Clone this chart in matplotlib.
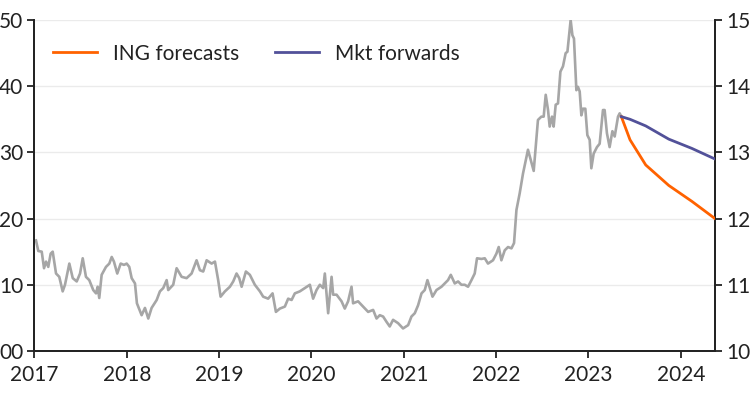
import matplotlib
matplotlib.use("Agg")
import matplotlib.pyplot as plt
import numpy as np

plt.rcParams['font.family'] = ['Lato', 'DejaVu Sans']

# history (decimal years, left axis units)
hist_t = [2017.017, 2017.042, 2017.079, 2017.104, 2017.126, 2017.150, 2017.176, 2017.198,
          2017.234, 2017.269, 2017.306, 2017.331, 2017.378, 2017.415, 2017.458, 2017.494,
          2017.523, 2017.558, 2017.594, 2017.637, 2017.667, 2017.685, 2017.702, 2017.728,
          2017.775, 2017.811, 2017.837, 2017.861, 2017.897, 2017.934, 2017.970, 2017.999,
          2018.027, 2018.053, 2018.089, 2018.110, 2018.161, 2018.197, 2018.233, 2018.269,
          2018.324, 2018.359, 2018.395, 2018.432, 2018.449, 2018.503, 2018.540, 2018.594,
          2018.648, 2018.702, 2018.756, 2018.792, 2018.828, 2018.865, 2018.919, 2018.955,
          2018.990, 2019.016, 2019.063, 2019.117, 2019.153, 2019.189, 2019.218, 2019.244,
          2019.290, 2019.333, 2019.387, 2019.442, 2019.477, 2019.531, 2019.579, 2019.615,
          2019.658, 2019.712, 2019.748, 2019.785, 2019.820, 2019.874, 2019.929, 2019.983,
          2020.018, 2020.055, 2020.091, 2020.127, 2020.145, 2020.181, 2020.218, 2020.235,
          2020.272, 2020.326, 2020.361, 2020.397, 2020.434, 2020.451, 2020.505, 2020.560,
          2020.614, 2020.668, 2020.705, 2020.740, 2020.776, 2020.813, 2020.848, 2020.884,
          2020.938, 2020.992, 2021.047, 2021.083, 2021.119, 2021.155, 2021.192, 2021.227,
          2021.256, 2021.311, 2021.354, 2021.408, 2021.444, 2021.479, 2021.509, 2021.552,
          2021.588, 2021.624, 2021.660, 2021.696, 2021.733, 2021.768, 2021.793, 2021.841,
          2021.877, 2021.912, 2021.966, 2022.003, 2022.028, 2022.057, 2022.093, 2022.129,
          2022.166, 2022.194, 2022.220, 2022.255, 2022.291, 2022.345, 2022.407, 2022.453,
          2022.490, 2022.515, 2022.537, 2022.562, 2022.580, 2022.605, 2022.623, 2022.645,
          2022.670, 2022.696, 2022.724, 2022.753, 2022.772, 2022.789, 2022.807, 2022.826,
          2022.843, 2022.869, 2022.886, 2022.905, 2022.923, 2022.940, 2022.966, 2022.988,
          2023.013, 2023.031, 2023.056, 2023.092, 2023.121, 2023.157, 2023.175, 2023.200,
          2023.229, 2023.259, 2023.284, 2023.320, 2023.338, 2023.356]
hist_v = [16.7, 15.1, 15.0, 12.5, 13.5, 12.7, 14.7, 15.0,
          11.7, 11.2, 9.0, 10.0, 13.2, 11.0, 10.5, 11.7,
          14.0, 11.2, 10.7, 9.2, 8.7, 9.7, 8.0, 11.5,
          12.7, 13.2, 14.2, 13.5, 11.7, 13.2, 13.0, 13.2,
          12.7, 11.0, 10.2, 7.2, 5.4, 6.5, 4.9, 6.5,
          7.7, 9.0, 9.5, 10.7, 9.2, 10.0, 12.5, 11.2,
          11.0, 11.7, 13.7, 12.2, 12.0, 13.7, 13.2, 13.5,
          10.7, 8.2, 9.0, 9.7, 10.5, 11.7, 11.0, 9.7,
          12.0, 11.5, 10.0, 9.0, 8.2, 7.9, 8.7, 5.9,
          6.4, 6.7, 7.9, 7.7, 8.7, 9.0, 9.5, 10.0,
          7.9, 9.2, 10.0, 9.5, 11.7, 5.7, 11.2, 8.5,
          8.5, 7.5, 6.4, 7.5, 9.7, 7.2, 7.5, 6.7,
          5.9, 6.2, 4.9, 5.4, 5.2, 4.4, 3.7, 4.7,
          4.2, 3.4, 3.9, 5.2, 5.7, 6.9, 8.7, 9.2,
          10.7, 8.2, 9.2, 9.7, 10.2, 10.7, 11.5, 10.2,
          10.5, 10.0, 10.0, 9.7, 10.7, 11.7, 14.0, 13.9,
          14.0, 13.2, 13.7, 14.7, 15.7, 13.7, 15.2, 15.7,
          15.5, 16.3, 21.3, 23.8, 26.8, 30.4, 27.2, 34.9,
          35.4, 35.4, 38.7, 36.4, 33.9, 35.4, 33.9, 37.2,
          37.4, 42.2, 43.0, 45.0, 45.2, 47.5, 50.0, 47.7,
          47.2, 39.4, 39.9, 39.2, 35.6, 36.6, 36.6, 32.6,
          31.9, 27.6, 29.8, 30.8, 31.3, 36.4, 36.4, 32.9,
          30.8, 33.2, 32.4, 35.4, 35.9, 35.4]

# forecasts (right axis units)
fc_t = [2023.356, 2023.45, 2023.62, 2023.87, 2024.12, 2024.37]
ing_fc = [13.54, 13.19, 12.81, 12.50, 12.26, 12.00]
mkt_fwd = [13.54, 13.50, 13.40, 13.20, 13.06, 12.90]

years = [2017, 2018, 2019, 2020, 2021, 2022, 2023, 2024]
left_ticks = [0, 10, 20, 30, 40, 50]
left_labels = ["00", "10", "20", "30", "40", "50"]
right_ticks = [10, 11, 12, 13, 14, 15]

fig = plt.figure(figsize=(7.5, 3.97), dpi=100)
ax = fig.add_axes([0.0459, 0.116, 0.9074, 0.8336])
ax2 = ax.twinx()

ax.plot(hist_t, hist_v, color='#a6a6a6', lw=1.9, zorder=2)
ax2.plot(fc_t, ing_fc, color='#ff6200', lw=2.0, label='ING forecasts', zorder=3)
ax2.plot(fc_t, mkt_fwd, color='#525199', lw=2.0, label='Mkt forwards', zorder=3)

ax.set_xlim(2017, 2024.37)
ax.set_ylim(0, 50)
ax2.set_ylim(10, 15)
ax.set_xticks(years)
ax.set_xticklabels([str(y) for y in years])
ax.set_yticks(left_ticks)
ax.set_yticklabels(left_labels)
ax2.set_yticks(right_ticks)

ax.grid(axis='y', color='#ebebeb', lw=1)
ax.set_axisbelow(True)

for a in (ax, ax2):
    a.spines['top'].set_visible(False)
    for s in ('left', 'right', 'bottom'):
        a.spines[s].set_linewidth(1.3)
        a.spines[s].set_color('#222222')
    a.tick_params(length=5, width=1.3, colors='#222222', labelsize=15, pad=3)
ax.tick_params(axis='x', pad=5)

leg = ax2.legend(loc='upper left', ncol=2, frameon=False, fontsize=15,
                 bbox_to_anchor=(0.0, 0.985), handlelength=2.1, columnspacing=1.75,
                 handletextpad=0.75)
for t in leg.get_texts():
    t.set_color('#222222')

fig.savefig('out.png', dpi=100)
